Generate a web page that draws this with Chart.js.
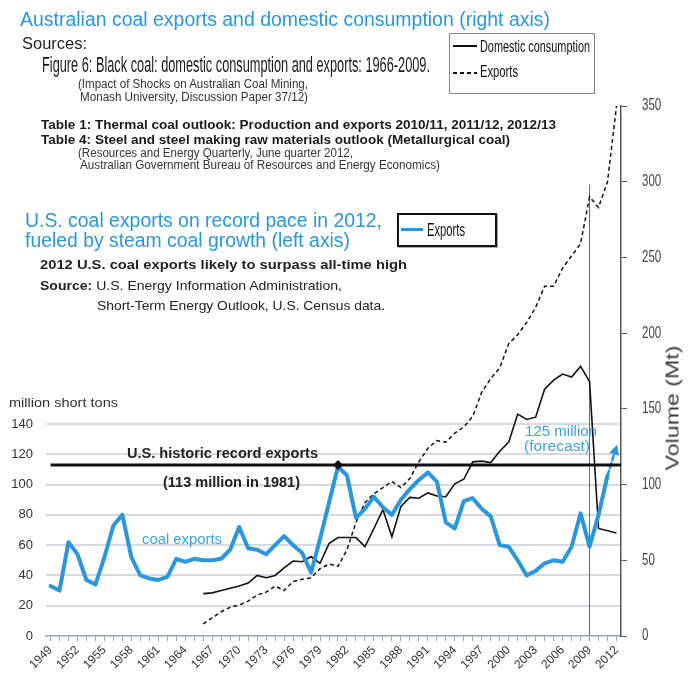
<!DOCTYPE html>
<html>
<head>
<meta charset="utf-8">
<script src="https://cdn.jsdelivr.net/npm/chart.js@4.4.1/dist/chart.umd.min.js"></script>
<style>
  html, body { margin: 0; padding: 0; background: #fff; }
  #wrap { position: relative; width: 700px; height: 700px; overflow: hidden; }
  #chart { position: absolute; left: 0; top: 0; }
  .txt { position: absolute; white-space: nowrap; transform-origin: 0 0; }
  .box { position: absolute; box-sizing: border-box; }
</style>
</head>
<body>
<div id="wrap">
  <canvas id="chart" width="700" height="700"></canvas>
</div>
<script>
// categories: one per year
const years = [];
for (let yr = 1949; yr <= 2012; yr++) years.push(String(yr));

// U.S. coal exports, million short tons (left axis), 2012 = forecast
const usExports = [
  33, 30, 62, 54, 37, 34, 52, 73, 80, 52,
  40, 38, 37, 39, 51, 49, 51, 50, 50, 51,
  57, 72, 58, 57, 54, 60, 66, 60, 55, 42,
  64, 88, 112, 106, 78, 84, 92, 85, 80, 90,
  97, 103, 108, 102, 75, 71, 89, 91, 84, 79,
  60, 59, 50, 40, 43, 48, 50, 49, 59, 81,
  59, 80, 106, 125
];

// Australian black coal, Mt (right axis), from 1966
const auStart = '1966';
const auDomestic = [
  28, 28.5, 30, 31.5, 33, 35, 40, 38.5, 40, 45,
  49.5, 49, 52.5, 48, 61, 65, 65, 65, 59, 71,
  83.5, 65.5, 85.5, 91.5, 91, 94.5, 92.5, 92, 100.5, 103.5,
  115, 115.5, 114.5, 122, 128, 146.5, 143, 144.5, 163, 169,
  173, 171, 178, 168, 71, null, 68
];
const auExports = [
  8, 12, 16, 19, 20.5, 23, 27, 29, 33, 30,
  36, 37.5, 38.5, 44.5, 47.5, 46, 57, 75, 88, 94,
  98, 102, 98, 104, 115, 124, 129, 128, 134, 138,
  145, 161, 170, 177, 193, 199, 207, 217, 231, 231,
  243, 251, 259, 290, 283, 300, 350
];

const record = { year: '1981', value: 113 };
const auEdgeYear = '2009';
const auEdgeTop = 298;

const leftTicksMax = 140;
const axisMax = 350;

const BLUE = '#2a96de';
const SANS = '"Liberation Sans", Arial, sans-serif';
const NARROW = '"Liberation Sans Narrow", "Arial Narrow", "Liberation Sans", sans-serif';

const lead = Array(years.indexOf(auStart)).fill(null);
const last = usExports.length - 1;

const overlay = {
  id: 'overlay',
  beforeDatasetsDraw(chart) {
    const { ctx, chartArea, scales } = chart;
    const xe = scales.x.getPixelForValue(years.indexOf(auEdgeYear));
    ctx.save();
    ctx.strokeStyle = '#666';
    ctx.lineWidth = 1;
    ctx.beginPath();
    ctx.moveTo(xe, scales.y2.getPixelForValue(auEdgeTop));
    ctx.lineTo(xe, chartArea.bottom);
    ctx.stroke();
    ctx.restore();
  },
  afterDatasetsDraw(chart) {
    const { ctx, chartArea, scales } = chart;
    const x = scales.x, y = scales.y, y2 = scales.y2;
    ctx.save();
    // record line
    const ry = y.getPixelForValue(record.value);
    ctx.strokeStyle = '#111';
    ctx.lineWidth = 3;
    ctx.beginPath();
    ctx.moveTo(x.getPixelForValue(0), ry);
    ctx.lineTo(chartArea.right, ry);
    ctx.stroke();
    // record marker
    const rx = x.getPixelForValue(years.indexOf(record.year));
    ctx.fillStyle = '#111';
    ctx.beginPath();
    ctx.moveTo(rx, ry - 5);
    ctx.lineTo(rx + 5, ry);
    ctx.lineTo(rx, ry + 5);
    ctx.lineTo(rx - 5, ry);
    ctx.closePath();
    ctx.fill();
    // right axis labels, condensed
    ctx.fillStyle = '#444';
    ctx.font = '16px ' + SANS;
    ctx.textBaseline = 'middle';
    ctx.textAlign = 'left';
    y2.ticks.forEach(t => {
      const lbl = String(t.value);
      const w = ctx.measureText(lbl).width * 0.72;
      ctx.fillText(lbl, chartArea.right + 21, y2.getPixelForValue(t.value), w);
    });
    // forecast arrow head
    const pts = chart.getDatasetMeta(0).data;
    const a = pts[last - 1], b = pts[last];
    const ang = Math.atan2(b.y - a.y, b.x - a.x);
    ctx.fillStyle = BLUE;
    ctx.translate(b.x, b.y);
    ctx.rotate(ang);
    ctx.beginPath();
    ctx.moveTo(2, 0);
    ctx.lineTo(-8, -5);
    ctx.lineTo(-8, 5);
    ctx.closePath();
    ctx.fill();
    ctx.restore();
  }
};

new Chart(document.getElementById('chart'), {
  type: 'line',
  data: {
    labels: years,
    datasets: [
      {
        label: 'Exports',
        data: usExports,
        yAxisID: 'y',
        borderColor: BLUE,
        borderWidth: 4,
        borderJoinStyle: 'round',
        borderCapStyle: 'round',
        pointRadius: 0,
        tension: 0,
        segment: {
          borderDash: c => c.p1DataIndex === last ? [5, 3] : undefined,
          borderWidth: c => c.p1DataIndex === last ? 2.5 : undefined
        }
      },
      {
        label: 'Domestic consumption',
        data: lead.concat(auDomestic),
        yAxisID: 'y2',
        borderColor: '#111',
        borderWidth: 1.6,
        pointRadius: 0,
        spanGaps: true,
        tension: 0
      },
      {
        label: 'Exports (Australia)',
        data: lead.concat(auExports),
        yAxisID: 'y2',
        borderColor: '#111',
        borderWidth: 1.5,
        borderDash: [4, 3],
        pointRadius: 0,
        tension: 0
      }
    ]
  },
  options: {
    responsive: false,
    animation: false,
    layout: { padding: { top: 106, left: 0, right: 0, bottom: 0 } },
    plugins: { legend: { display: false }, tooltip: { enabled: false } },
    scales: {
      x: {
        offset: true,
        afterFit: s => { s.height = 64; },
        border: { color: '#9aa4ae', width: 1.5 },
        grid: { drawOnChartArea: false, offset: false, tickLength: 5, color: '#9aa4ae' },
        ticks: {
          autoSkip: false,
          maxRotation: 45,
          minRotation: 45,
          padding: 2,
          color: '#333',
          font: { family: SANS, size: 12 },
          callback: (v, i) => (i % 3 === 0 ? years[i] : '')
        }
      },
      y: {
        position: 'left',
        min: 0,
        max: axisMax,
        afterFit: s => { s.width = 46; },
        afterBuildTicks: s => { s.ticks = s.ticks.filter(t => t.value <= leftTicksMax); },
        border: { display: false },
        grid: {
          drawTicks: false,
          lineWidth: 2,
          color: c => (c.tick && c.tick.value === 0 ? 'rgba(0,0,0,0)' : '#d5dae0')
        },
        ticks: { stepSize: 20, padding: 13, color: '#333', font: { family: SANS, size: 13 } }
      },
      y2: {
        position: 'right',
        min: 0,
        max: axisMax,
        afterFit: s => { s.width = 79; },
        border: { color: '#555', width: 1.5 },
        grid: { drawOnChartArea: false, tickLength: 6, color: '#555' },
        ticks: { stepSize: 50, display: false }
      }
    }
  },
  plugins: [overlay]
});

// page texts: text, left, baseline, width, font, colour
const texts = [
  ['Australian coal exports and domestic consumption (right axis)', 20, 26, 530, '20px ' + SANS, BLUE],
  ['Sources:', 22, 49, 65, '17px ' + SANS, '#222'],
  ['Figure 6: Black coal: domestic consumption and exports: 1966-2009.', 42, 73, 388, '22px ' + NARROW, '#1a1a1a'],
  ['(Impact of Shocks on Australian Coal Mining,', 78, 88, 230, '12px ' + SANS, '#333'],
  ['Monash University, Discussion Paper 37/12)', 80, 101, 228, '12px ' + SANS, '#333'],
  ['Table 1: Thermal coal outlook: Production and exports 2010/11, 2011/12, 2012/13', 41, 129, 515, 'bold 13px ' + SANS, '#1a1a1a'],
  ['Table 4: Steel and steel making raw materials outlook (Metallurgical coal)', 41, 144, 469, 'bold 13px ' + SANS, '#1a1a1a'],
  ['(Resources and Energy Quarterly, June quarter 2012,', 78, 157, 275, '12px ' + SANS, '#333'],
  ['Australian Government Bureau of Resources and Energy Economics)', 80, 169, 360, '12px ' + SANS, '#333'],
  ['U.S. coal exports on record pace in 2012,', 25, 227, 357, '20px ' + SANS, BLUE],
  ['fueled by steam coal growth (left axis)', 25, 247, 325, '20px ' + SANS, BLUE],
  ['2012 U.S. coal exports likely to surpass all-time high', 40, 269, 367, 'bold 13px ' + SANS, '#222'],
  ['Source:|U.S. Energy Information Administration,', 40, 290, 302, '13px ' + SANS, '#222'],
  ['Short-Term Energy Outlook, U.S. Census data.', 97, 310, 288, '13px ' + SANS, '#222'],
  ['Domestic consumption', 480, 53, 110, '16px ' + NARROW, '#111'],
  ['Exports', 480, 78, 38, '16px ' + NARROW, '#111'],
  ['Exports', 427, 236, 38, '18px ' + NARROW, '#111'],
  ['million short tons', 9, 407, 109, '13px ' + SANS, '#333'],
  ['U.S. historic record exports', 127, 458, 191, 'bold 14px ' + SANS, '#222'],
  [`(${record.value} million in ${record.year})`, 163, 487, 137, 'bold 14px ' + SANS, '#222'],
  ['coal exports', 142, 544, 80, '14px ' + SANS, '#3aa2e3'],
  [`${usExports[last]} million`, 525, 436, 72, '14px ' + SANS, '#3aa2e3'],
  ['(forecast)', 524, 451, 66, '14px ' + SANS, '#3aa2e3']
];

const wrap = document.getElementById('wrap');

function addBox(left, top, w, h, css) {
  const d = document.createElement('div');
  d.className = 'box';
  Object.assign(d.style, { left: left + 'px', top: top + 'px', width: w + 'px', height: h + 'px' }, css);
  wrap.appendChild(d);
}

// legend boxes and samples
addBox(449, 33, 146, 61, { border: '1px solid #8a8a8a' });
addBox(453, 45, 24, 2, { background: '#111' });
addBox(453, 72, 24, 2, { background: 'repeating-linear-gradient(90deg, #111 0 4px, transparent 4px 7px)' });
addBox(397, 213, 100, 34, { border: '2px solid #111', boxShadow: '1px 1px 0 #aaa' });
addBox(401, 228, 22, 3, { background: BLUE });

texts.forEach(([t, x, base, w, font, color]) => {
  const el = document.createElement('div');
  el.className = 'txt';
  el.style.font = font;
  el.style.lineHeight = '1';
  el.style.color = color;
  if (t.includes('|')) {
    const [b, rest] = t.split('|');
    const s = document.createElement('b');
    s.textContent = b;
    el.appendChild(s);
    el.appendChild(document.createTextNode(' ' + rest));
  } else {
    el.textContent = t;
  }
  wrap.appendChild(el);
  const fs = parseFloat(font.match(/([\d.]+)px/)[1]);
  el.style.left = x + 'px';
  el.style.top = (base - 0.85 * fs) + 'px';
  const k = w / el.getBoundingClientRect().width;
  el.style.transform = `scaleX(${k})`;
});

// right axis title, rotated
const vt = document.createElement('div');
vt.className = 'txt';
vt.style.font = '18px ' + SANS;
vt.style.lineHeight = '1';
vt.style.color = '#3a3a3a';
vt.textContent = 'Volume (Mt)';
wrap.appendChild(vt);
const vw = vt.getBoundingClientRect().width;
vt.style.transformOrigin = '50% 50%';
vt.style.left = (673 - vw / 2) + 'px';
vt.style.top = (408 - 9) + 'px';
vt.style.transform = `rotate(-90deg) scaleX(${125 / vw})`;
</script>
</body>
</html>
